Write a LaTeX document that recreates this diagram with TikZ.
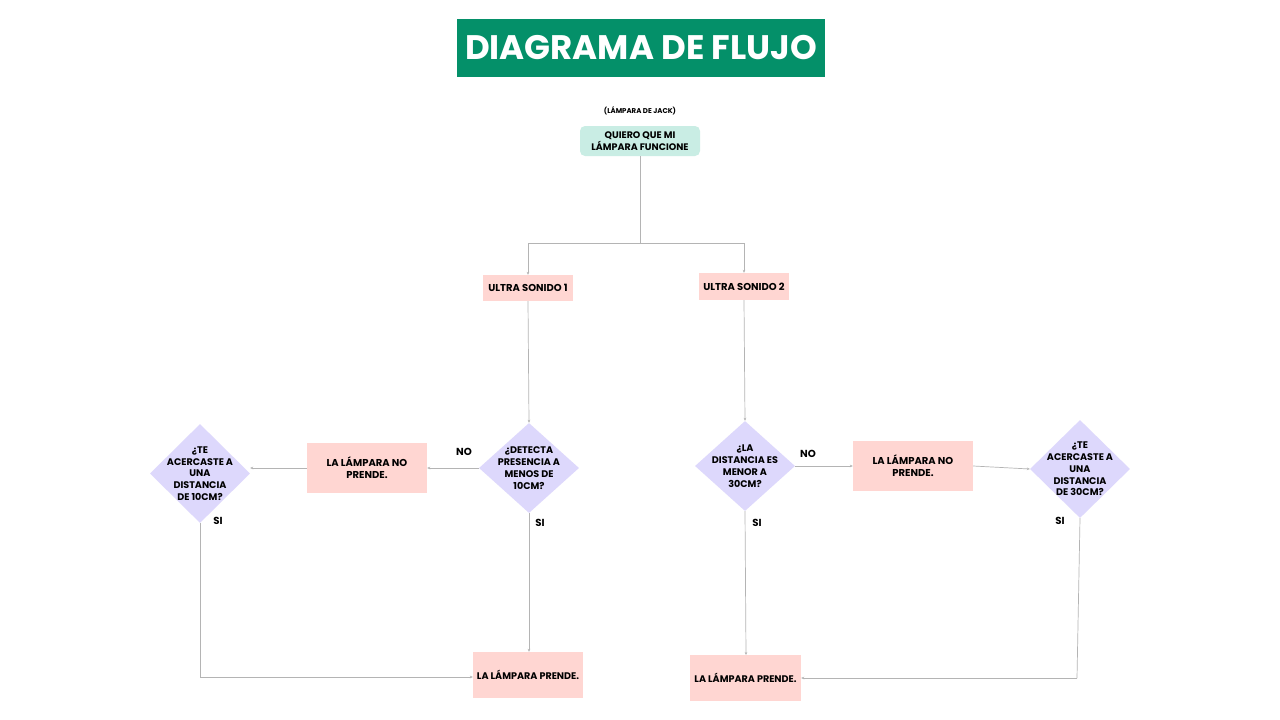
\documentclass[tikz,border=0pt]{standalone}
\usepackage{fontspec}
\setmainfont{Poppins}
\usetikzlibrary{shapes.geometric,arrows.meta}
\definecolor{titlegreen}{HTML}{049069}
\definecolor{pinkbox}{HTML}{FFD6D2}
\definecolor{tealbox}{HTML}{C9EDE4}
\definecolor{lavbox}{HTML}{DDD8FC}
\definecolor{linegray}{HTML}{B4B4B4}
\begin{document}
\begin{tikzpicture}[x=1pt,y=-1pt,
  every node/.style={font=\bfseries\fontsize{9.6}{11.8}\selectfont, text=black, align=center, inner sep=0pt},
  pinkrect/.style={fill=pinkbox, minimum width=#1, draw=none},
  dia/.style={diamond, fill=lavbox, minimum width=100pt, minimum height=#1, aspect=1, inner sep=0pt},
  conn/.style={draw=linegray, line width=0.7pt, -{Stealth[length=3pt,width=2.6pt]}},
  plain/.style={draw=linegray, line width=0.7pt},
  lbl/.style={font=\bfseries\fontsize{10.2}{11}\selectfont}
]
\useasboundingbox (0,0) rectangle (1280,720);
\fill[white] (0,0) rectangle (1280,720);

% title
\node[fill=titlegreen, minimum width=368pt, minimum height=58pt, text=white, font=\bfseries\fontsize{34}{36}\selectfont] (title) at (641,48) {DIAGRAMA DE FLUJO};

\node[font=\bfseries\fontsize{7}{8}\selectfont] (sub) at (640,111) {(LÁMPARA DE JACK)};
\node[fill=tealbox, rounded corners=5pt, minimum width=120pt, minimum height=30pt, font=\bfseries\fontsize{9.5}{11.5}\selectfont] (start) at (640,141) {QUIERO QUE MI\\LÁMPARA FUNCIONE};

\node[pinkrect=90pt, minimum height=26pt, font=\bfseries\fontsize{10}{12}\selectfont] (us1) at (528,288) {ULTRA SONIDO 1};
\node[pinkrect=90pt, minimum height=27pt, font=\bfseries\fontsize{10}{12}\selectfont] (us2) at (744,286.5) {ULTRA SONIDO 2};

% left branch
\node[dia=90pt] (d1) at (529,468) {};
\node at (d1) {¿DETECTA\\PRESENCIA A\\MENOS DE\\10CM?};
\node[pinkrect=120pt, minimum height=50pt, font=\bfseries\fontsize{10}{12}\selectfont] (no1) at (367,468) {LA LÁMPARA NO\\PRENDE.};
\node[dia=99pt] (dL) at (200,473.5) {};
\node at (dL) {¿TE\\ACERCASTE A\\UNA\\DISTANCIA\\DE 10CM?};
\node[pinkrect=110pt, minimum height=46pt, font=\bfseries\fontsize{9.6}{12}\selectfont] (lp1) at (528,675) {LA LÁMPARA PRENDE.};

% right branch
\node[dia=90pt] (d2) at (745,466) {};
\node at (d2) {¿LA\\DISTANCIA ES\\MENOR A\\30CM?};
\node[pinkrect=120pt, minimum height=50pt, font=\bfseries\fontsize{10}{12}\selectfont] (no2) at (913,466) {LA LÁMPARA NO\\PRENDE.};
\node[dia=98pt] (dR) at (1080,469) {};
\node at (dR) {¿TE\\ACERCASTE A\\UNA\\DISTANCIA\\DE 30CM?};
\node[pinkrect=111pt, minimum height=46pt, font=\bfseries\fontsize{9.6}{12}\selectfont] (lp2) at (745.5,678) {LA LÁMPARA PRENDE.};

% labels
\node[lbl] (noA) at (464,452) {NO};
\node[lbl] (siA) at (540,523) {SI};
\node[lbl] (siL) at (218,521) {SI};
\node[lbl] (noB) at (808,454) {NO};
\node[lbl] (siB) at (757,523) {SI};
\node[lbl] (siR) at (1060,521) {SI};

% connectors
\coordinate (j0) at (640,243);
\draw[plain] (start.south) -- (j0);
\draw[conn] (j0) -| (us1.north);
\draw[conn] (j0) -| (us2.north);
\draw[conn] (us1.south) -- (d1.north);
\draw[conn] (us2.south) -- (d2.north);
\draw[conn] (d1.west) -- (no1.east);
\draw[conn] (no1.west) -- (dL.east |- no1.west);
\draw[conn] (d1.south) -- (lp1.north -| d1.south);
\coordinate (cL) at (200,677);
\draw[plain] (dL.south) -- (cL);
\draw[conn] (cL) -- (lp1.west |- cL);
\draw[conn] (d2.east) -- (no2.west);
\draw[conn] (no2.east) -- (dR.west);
\draw[conn] (d2.south) -- (746,655) ;
\coordinate (cR) at (1077,678);
\draw[plain] (dR.south) -- (cR);
\draw[conn] (cR) -- (lp2.east);
\end{tikzpicture}
\end{document}
